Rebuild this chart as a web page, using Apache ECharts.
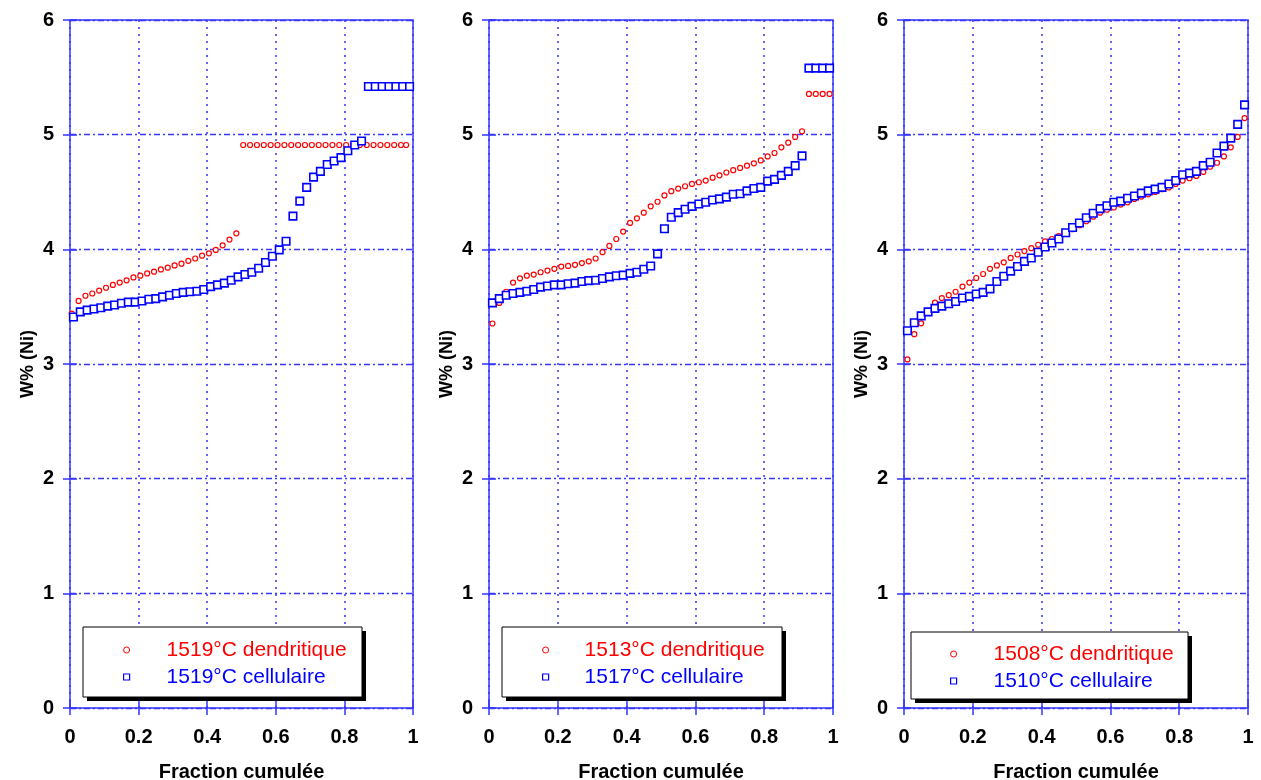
<!DOCTYPE html>
<html>
<head>
<meta charset="utf-8">
<script src="https://cdn.jsdelivr.net/npm/echarts@6/dist/echarts.min.js"></script>
<style>
html,body{margin:0;padding:0;background:#fff;}
#chart{width:1261px;height:780px;}
</style>
</head>
<body>
<div id="chart"></div>
<script>
// ---- data ----
var xTicks = ['0', '0.2', '0.4', '0.6', '0.8', '1'];
var yTicks = ['0', '1', '2', '3', '4', '5', '6'];

// cumulative fraction of each measured point
var frac50 = [0.01,0.03,0.05,0.07,0.09,0.11,0.13,0.15,0.17,0.19,0.21,0.23,0.25,0.27,0.29,0.31,0.33,0.35,0.37,0.39,
              0.41,0.43,0.45,0.47,0.49,0.51,0.53,0.55,0.57,0.59,0.61,0.63,0.65,0.67,0.69,0.71,0.73,0.75,0.77,0.79,
              0.81,0.83,0.85,0.87,0.89,0.91,0.93,0.95,0.97,0.99];
var fracR1 = [0.005,0.025,0.045,0.065,0.085,0.105,0.125,0.145,0.165,0.185,0.205,0.225,0.245,0.265,0.285,0.305,0.325,0.345,0.365,0.385,
              0.405,0.425,0.445,0.465,0.485,0.505,0.525,0.545,0.565,0.585,0.605,0.625,0.645,0.665,0.685,0.705,0.725,0.745,0.765,0.785,
              0.805,0.825,0.845,0.865,0.885,0.905,0.925,0.945,0.965,0.98];

var names1 = ['1519°C dendritique', '1519°C cellulaire'];
var names2 = ['1513°C dendritique', '1517°C cellulaire'];
var names3 = ['1508°C dendritique', '1510°C cellulaire'];

var red1 = [3.44,3.55,3.595,3.615,3.64,3.665,3.69,3.71,3.73,3.755,3.77,3.79,3.805,3.825,3.84,3.86,3.875,3.90,3.92,3.945,
            3.965,3.995,4.035,4.085,4.14,4.91,4.91,4.91,4.91,4.91,4.91,4.91,4.91,4.91,4.91,4.91,4.91,4.91,4.91,4.91,
            4.91,4.91,4.91,4.91,4.91,4.91,4.91,4.91,4.91,4.91];
var blue1 = [3.41,3.455,3.47,3.48,3.49,3.505,3.515,3.53,3.54,3.54,3.55,3.565,3.57,3.585,3.60,3.615,3.625,3.63,3.635,3.65,
             3.675,3.69,3.705,3.73,3.76,3.78,3.80,3.835,3.885,3.94,3.995,4.07,4.29,4.42,4.54,4.63,4.68,4.74,4.77,4.80,
             4.86,4.91,4.945,5.42,5.42,5.42,5.42,5.42,5.42,5.42];
var red2 = [3.353,3.533,3.63,3.71,3.747,3.77,3.78,3.80,3.815,3.83,3.85,3.855,3.865,3.88,3.895,3.92,3.975,4.03,4.09,4.155,
            4.23,4.27,4.32,4.375,4.415,4.47,4.507,4.53,4.55,4.57,4.585,4.60,4.625,4.645,4.67,4.69,4.71,4.73,4.75,4.775,
            4.81,4.84,4.89,4.93,4.98,5.03,5.355,5.355,5.355,5.355];
var blue2 = [3.533,3.57,3.60,3.615,3.625,3.635,3.65,3.67,3.68,3.69,3.69,3.70,3.705,3.72,3.727,3.73,3.745,3.76,3.77,3.775,
             3.79,3.80,3.826,3.855,3.96,4.18,4.28,4.32,4.35,4.375,4.395,4.41,4.43,4.44,4.455,4.48,4.485,4.51,4.53,4.54,
             4.595,4.61,4.645,4.68,4.73,4.815,5.58,5.58,5.58,5.58];
var red3 = [3.04,3.26,3.355,3.45,3.535,3.575,3.60,3.63,3.675,3.71,3.75,3.785,3.83,3.86,3.887,3.925,3.955,3.985,4.01,4.04,
            4.07,4.09,4.115,4.14,4.175,4.21,4.245,4.285,4.32,4.345,4.365,4.39,4.41,4.44,4.46,4.48,4.50,4.525,4.54,4.57,
            4.60,4.62,4.64,4.675,4.72,4.755,4.81,4.89,4.98,5.145];
var blue3 = [3.29,3.36,3.42,3.455,3.485,3.505,3.525,3.545,3.575,3.59,3.61,3.625,3.655,3.72,3.765,3.81,3.85,3.895,3.925,3.975,
             4.02,4.055,4.09,4.145,4.19,4.23,4.275,4.315,4.355,4.38,4.41,4.42,4.445,4.465,4.49,4.51,4.525,4.54,4.57,4.60,
             4.65,4.665,4.68,4.73,4.76,4.84,4.90,4.97,5.09,5.26];

// ---- styling / layout ----
var FONT = "'Liberation Sans', Arial, Helvetica, sans-serif";
var RED = '#ff0000', BLUE = '#0000ff', GRIDC = '#3535ff';
var panels = [
  {left: 70,  width: 343, names: names1, redX: fracR1, red: red1, blueX: frac50, blue: blue1,
   box: [83, 627, 279, 70],  legLeft: 123, legTop: 639.5, pad: 32},
  {left: 489, width: 344, names: names2, redX: frac50, red: red2, blueX: frac50, blue: blue2,
   box: [502, 627, 280, 70], legLeft: 542, legTop: 639.5, pad: 31},
  {left: 904, width: 344, names: names3, redX: frac50, red: red3, blueX: frac50, blue: blue3,
   box: [911, 632, 277, 67], legLeft: 950, legTop: 643.5, pad: 32}
];

function zip(xs, ys) { return ys.map(function (v, i) { return [xs[i], v]; }); }

var grids = [], xAxes = [], yAxes = [], series = [], legends = [], graphics = [];
var nP = panels.length;
panels.forEach(function (p, k) {
  grids.push({left: p.left, top: 20, width: p.width, height: 688, show: true,
              containLabel: false, outerBoundsMode: 'none',
              borderColor: GRIDC, borderWidth: 1.5, backgroundColor: 'transparent'});
  xAxes[k] = {
    type: 'value', gridIndex: k, position: 'bottom', min: 0, max: 1, interval: 0.2,
    name: 'Fraction cumulée', nameLocation: 'middle', nameGap: 54,
    nameTextStyle: {fontFamily: FONT, fontWeight: 'bold', fontSize: 20, color: '#000'},
    axisLine: {show: false},
    axisTick: {show: true, inside: true, length: 7, lineStyle: {color: GRIDC, width: 1.5}},
    axisLabel: {fontFamily: FONT, fontWeight: 'bold', fontSize: 20, color: '#000', margin: 19,
                formatter: function (v) { return xTicks[Math.round(v / 0.2)]; }},
    splitLine: {show: true, lineStyle: {color: GRIDC, width: 1.5, type: [2, 5]}}
  };
  xAxes[nP + k] = {
    type: 'value', gridIndex: k, position: 'top', min: 0, max: 1, interval: 0.2,
    axisLine: {show: false}, axisLabel: {show: false}, splitLine: {show: false},
    axisTick: {show: true, inside: true, length: 7, lineStyle: {color: GRIDC, width: 1.5}}
  };
  yAxes[k] = {
    type: 'value', gridIndex: k, position: 'left', min: 0, max: 6, interval: 1,
    name: 'W% (Ni)', nameLocation: 'middle', nameGap: 33,
    nameTextStyle: {fontFamily: FONT, fontWeight: 'bold', fontSize: 18, color: '#000'},
    axisLine: {show: false},
    axisTick: {show: true, inside: true, length: 7, lineStyle: {color: GRIDC, width: 1.5}},
    axisLabel: {fontFamily: FONT, fontWeight: 'bold', fontSize: 20, color: '#000', margin: 16,
                formatter: function (v) { return yTicks[Math.round(v)]; }},
    splitLine: {show: true, lineStyle: {color: GRIDC, width: 1.4, type: [6, 3, 2, 3]}}
  };
  yAxes[nP + k] = {
    type: 'value', gridIndex: k, position: 'right', min: 0, max: 6, interval: 1,
    axisLine: {show: false}, axisLabel: {show: false}, splitLine: {show: false},
    axisTick: {show: true, inside: true, length: 7, lineStyle: {color: GRIDC, width: 1.5}}
  };
  series.push({
    type: 'scatter', name: p.names[0], xAxisIndex: k, yAxisIndex: k,
    data: zip(p.redX, p.red), symbol: 'circle', symbolSize: 5, z: 3,
    itemStyle: {color: '#ffffff', borderColor: RED, borderWidth: 1.2, opacity: 1},
    emphasis: {disabled: true}, silent: true
  });
  series.push({
    type: 'scatter', name: p.names[1], xAxisIndex: k, yAxisIndex: k,
    data: zip(p.blueX, p.blue), symbol: 'rect', symbolSize: 7.5, z: 4,
    itemStyle: {color: '#ffffff', borderColor: BLUE, borderWidth: 1.6, opacity: 1},
    emphasis: {disabled: true}, silent: true
  });
  var b = p.box;
  graphics.push({type: 'rect', z: 10, silent: true, shape: {x: b[0] + 4, y: b[1] + 4, width: b[2], height: b[3]},
                 style: {fill: '#000'}});
  graphics.push({type: 'rect', z: 11, silent: true, shape: {x: b[0], y: b[1], width: b[2], height: b[3]},
                 style: {fill: '#fff', stroke: '#000', lineWidth: 1}});
  legends.push({
    orient: 'vertical', left: p.legLeft, top: p.legTop, padding: 0, itemGap: 6,
    itemWidth: 6, itemHeight: 6, selectedMode: false, z: 20,
    textStyle: {fontFamily: FONT, fontSize: 21, lineHeight: 20, padding: [0, 0, 0, p.pad]},
    data: [
      {name: p.names[0], icon: 'circle',
       itemStyle: {color: '#fff', borderColor: RED, borderWidth: 1}, textStyle: {color: RED}},
      {name: p.names[1], icon: 'rect',
       itemStyle: {color: '#fff', borderColor: BLUE, borderWidth: 1.2}, textStyle: {color: BLUE}}
    ]
  });
});

var chart = echarts.init(document.getElementById('chart'), null, {renderer: 'canvas'});
chart.setOption({
  animation: false,
  backgroundColor: '#ffffff',
  grid: grids,
  xAxis: xAxes,
  yAxis: yAxes,
  legend: legends,
  graphic: {elements: graphics},
  series: series
});
</script>
</body>
</html>
